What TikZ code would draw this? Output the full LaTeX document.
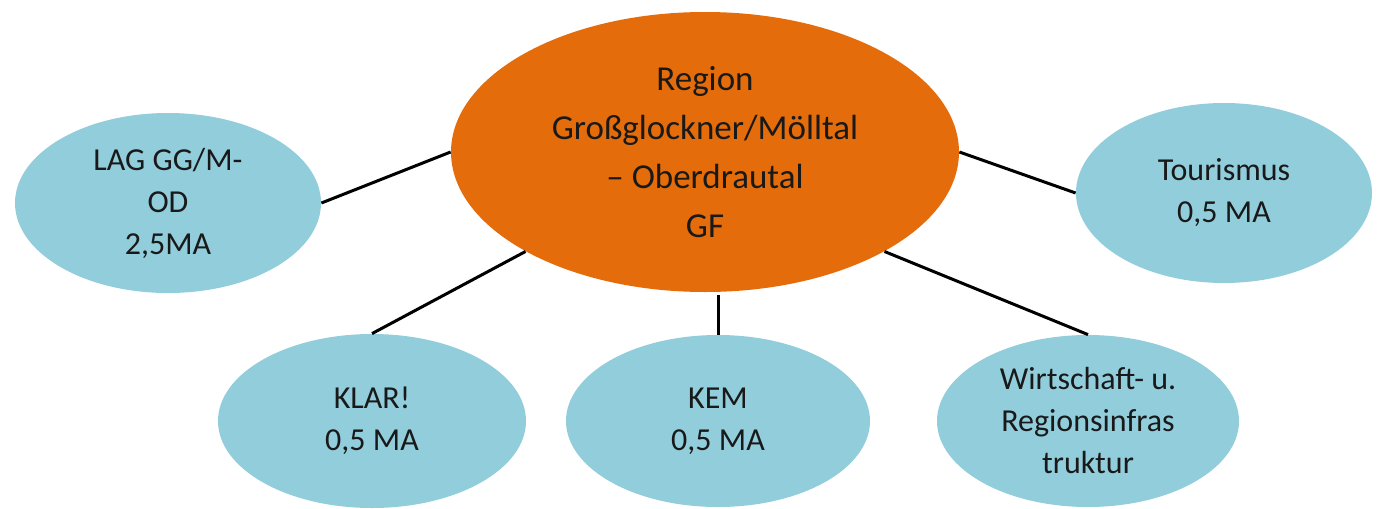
\documentclass[tikz,border=0pt]{standalone}
\usepackage{fontspec}
\setmainfont{Carlito}
\usetikzlibrary{shapes.geometric}
\definecolor{gforange}{RGB}{228,108,10}
\definecolor{teamblue}{RGB}{146,205,220}
\tikzstyle{head}=[ellipse,
	inner sep=0pt,
	minimum width=254pt,
	minimum height=140pt,
	fill=gforange,
	text=black!90,
	align=center,
	font=\fontsize{17.5}{24.5}\selectfont]
\tikzstyle{team}=[ellipse,
	inner sep=0pt,
	fill=teamblue,
	text=black!90,
	align=center,
	font=\fontsize{16}{21}\selectfont]
\tikzstyle{link}=[line width=1.5pt,
	black]

\begin{document}
\begin{tikzpicture}[x=0.5pt,y=-0.5pt]
					\useasboundingbox (0,0) rectangle (1378,509);
					\node (gf) [head] at (705,152) {Region\\Großglockner/Mölltal\\– Oberdrautal\\GF};

					\node (lag) [team, minimum width=153pt, minimum height=90pt] at (168,203) {LAG GG/M-\\OD\\2,5MA};
					\draw[link] (lag.east) -- (gf.west);
					\node (tourismus) [team, minimum width=148pt, minimum height=90pt] at (1224,193) {Tourismus\\0,5 MA};
					\draw[link] (gf.east) -- (tourismus.west);

					\node (klar) [team, minimum width=154pt, minimum height=87pt] at (372,421) {KLAR!\\0,5 MA};
					\draw[link] (klar.north) -- (gf.209);
					\node (kem) [team, minimum width=152pt, minimum height=86pt] at (718,421) {KEM\\0,5 MA};
					\draw[link] (kem.north) -- ([yshift=-1.5pt]kem.north |- gf.south);
					\node (wirtschaft) [team, minimum width=151pt, minimum height=86pt] at (1088,421) {Wirtschaft- u.\\Regionsinfras\\truktur};
					\draw[link] (wirtschaft.north) -- (gf.331);
				\end{tikzpicture}
\end{document}
